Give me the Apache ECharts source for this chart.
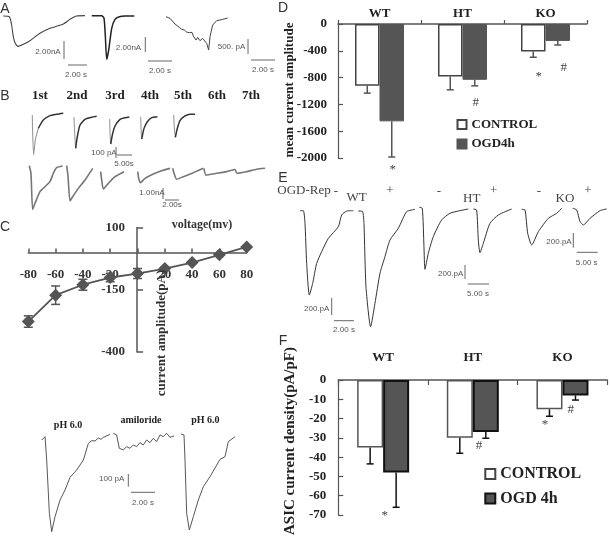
<!DOCTYPE html>
<html><head><meta charset="utf-8">
<style>html,body{margin:0;padding:0;background:#fff}#c{width:610px;height:539px;filter:blur(0.4px)}</style>
<script src="https://cdn.jsdelivr.net/npm/echarts@6/dist/echarts.min.js"></script>
</head><body><div id="c"></div>
<script>
// ---- bar panels
const groups = ['WT','HT','KO'];
const dControl = [-923,-784,-412];
const dOgd = [-1453,-833,-253];
const dControlErrEnd = [-1032,-982,-496];
const dOgdErrEnd = [-1985,-923,-313];
const fControl = [-35,-30,-15.2];
const fOgd = [-48,-27,-8];
const fControlErrEnd = [-43.5,-38,-18.8];
const fOgdErrEnd = [-66,-30.2,-10.4];
// ---- I-V panel
const ivVoltage = [-80,-60,-40,-20,0,20,40,60,80];
const ivCurrent = [-278,-172,-130,-101,-85,-65,-41,-10,22];
const ivError = [23,37,22,17,20,5,3,4,4];
// ---- current traces: [sample, deflection]; three units to one pixel
const traceA1 = [[0,0],[18,-2],[25,-27],[30,-62],[35,-80],[45,-91],[60,-85],[80,-74],[110,-52],[140,-37],[180,-24],[200,-10],[220,0],[245,1]];
const traceA2 = [[0,0],[30,0],[37,-8],[41,-63],[45,-131],[51,-103],[60,-38],[70,-11],[83,-3],[100,-1],[128,-1]];
const traceA3 = [[0,0],[12,-5],[27,-22],[40,-32],[47,-38],[55,-40],[62,-46],[70,-48],[78,-47],[82,-58],[90,-70],[95,-62],[102,-72],[110,-65],[114,-70],[122,-80],[128,-100],[132,-60],[140,-25],[152,-12],[170,-8],[185,-4]];
const traceB11 = [[0,-5],[1,-60],[4,-125],[9,-80],[18,-45],[33,-20],[53,-7],[73,-3],[93,0]];
const traceB12 = [[0,-3],[2,-51],[5,-96],[10,-61],[18,-26],[33,-9],[53,-3],[68,0]];
const traceB13 = [[0,-6],[1,-49],[3,-81],[9,-49],[16,-27],[31,-7],[46,-2],[59,0]];
const traceB14 = [[0,0],[1,-35],[3,-67],[10,-35],[20,-15],[33,-3],[50,0]];
const traceB15 = [[0,-2],[2,-42],[5,-69],[11,-42],[19,-19],[34,-5],[49,0],[64,0]];
const traceB21 = [[0,0],[5,-23],[10,-131],[17,-113],[32,-78],[47,-63],[62,-48],[72,-23],[82,-6],[100,-1]];
const traceB22 = [[0,0],[4,-33],[10,-106],[18,-93],[35,-68],[55,-43],[78,-8]];
const traceB23 = [[0,0],[3,-25],[8,-52],[23,-35],[43,-15],[70,0]];
const traceB24 = [[0,0],[3,-20],[8,-33],[22,-20],[47,-7],[72,3],[97,10]];
const traceB25 = [[0,0],[4,-15],[12,-33],[32,-25],[62,-13],[92,0]];
const traceB26 = [[0,0],[6,-20],[38,-15],[68,-10],[93,-3]];
const traceB27 = [[0,0],[7,-12],[35,-7],[65,0],[90,3]];
const traceE1 = [[0,0],[10,0],[15,-38],[20,-158],[28,-253],[38,-218],[50,-158],[65,-123],[85,-83],[115,-48],[125,-13],[140,-1],[160,0]];
const traceE2 = [[0,0],[13,-2],[17,-37],[23,-227],[37,-347],[50,-277],[65,-187],[80,-137],[95,-87],[120,-52],[145,-2],[170,5]];
const traceE3 = [[0,0],[9,-3],[14,-118],[17,-186],[27,-138],[42,-88],[67,-38],[92,-18],[122,-10],[147,-5]];
const traceE4 = [[0,0],[10,-3],[15,-93],[20,-131],[30,-103],[50,-43],[75,-18],[115,0]];
const traceE5 = [[0,0],[10,-2],[18,-72],[30,-107],[50,-67],[80,-27],[105,-12],[120,3]];
const traceE6 = [[0,0],[12,-5],[22,-40],[32,-50],[52,-30],[82,-7],[102,-2]];
const traceG1 = [[0,0],[10,10],[15,-60],[23,-220],[30,-275],[40,-230],[55,-180],[70,-150],[85,-112],[105,-90],[125,-60],[140,-10],[150,-2],[155,4],[160,-3],[170,6],[178,2],[185,8],[205,17]];
const traceG2 = [[0,0],[10,-5],[18,-45],[30,-50],[40,-40],[50,-45],[60,-35],[70,-40],[80,-28],[90,-35],[100,-20],[110,-28],[120,-15],[130,-25],[140,-5],[150,-10],[160,0],[170,-12],[182,-8]];
const traceG3 = [[0,0],[9,-3],[12,-78],[17,-238],[25,-288],[37,-248],[52,-198],[67,-158],[87,-128],[117,-76],[132,-68],[142,-23],[162,-8]];

const DARK='#333', GREY='#777', MID='#555', SERIF='"Liberation Serif"', SANS='"Liberation Sans"';
const grid=[], xAxis=[], yAxis=[], series=[];
const UNITS=3;
const NB={outerBoundsMode:'none',containLabel:false};
function addTrace(name,vals,left,base,color,width,greyUntil,smooth){
  const xs=vals.map(v=>v[0]), ys=vals.map(v=>v[1]);
  const xMax=Math.max(...xs), yMax=Math.max(0,...ys), yMin=Math.min(...ys);
  const i=grid.length;
  grid.push(Object.assign({left:left,top:base-yMax/UNITS,width:xMax/UNITS,height:(yMax-yMin)/UNITS},NB));
  xAxis.push({type:'value',gridIndex:i,show:false,min:0,max:xMax});
  yAxis.push({type:'value',gridIndex:i,show:false,min:yMin,max:yMax});
  const line=(d,c,w,n)=>series.push({name:n,type:'line',xAxisIndex:i,yAxisIndex:i,data:d,showSymbol:false,clip:false,silent:true,
    smooth:smooth===false?false:0.2,lineStyle:{color:c,width:w,join:'round'}});
  if(greyUntil){ line(vals.slice(0,greyUntil+1),'#999',1.1,name+' rise'); line(vals.slice(greyUntil),color,width,name); }
  else line(vals,color,width,name);
}
addTrace('A1',traceA1,3.3,16,'#444',1.1);
addTrace('A2',traceA2,91.7,15.7,'#222',1.5);
addTrace('A3',traceA3,166,16.7,'#444',1,0,false);
addTrace('B1-1',traceB11,32.3,113.3,'#333',1.4,4);
addTrace('B1-2',traceB12,74,116.3,'#333',1.5,2);
addTrace('B1-3',traceB13,109.7,117,'#333',1.5,2);
addTrace('B1-4',traceB14,140.7,116.7,'#333',1.5,2);
addTrace('B1-5',traceB15,173.7,114.3,'#333',1.5,2);
addTrace('B2-1',traceB21,29.3,165.7,GREY,1.6);
addTrace('B2-2',traceB22,66.7,165.7,GREY,1.6);
addTrace('B2-3',traceB23,100.7,171.7,GREY,1.6);
addTrace('B2-4',traceB24,137.7,171.7,GREY,1.6);
addTrace('B2-5',traceB25,172.7,168.3,GREY,1.6);
addTrace('B2-6',traceB26,204,168.3,GREY,1.6);
addTrace('B2-7',traceB27,235,169.3,GREY,1.6);
addTrace('E1',traceE1,300,210.7,'#333',1);
addTrace('E2',traceE2,358.3,211,'#333',1);
addTrace('E3',traceE3,419.3,207.3,'#333',1);
addTrace('E4',traceE4,473.3,209,'#333',1);
addTrace('E5',traceE5,521.7,209.3,'#333',1);
addTrace('E6',traceE6,572.7,208.3,'#333',1);
addTrace('G1',traceG1,41.7,440,'#444',.9,0,false);
addTrace('G2',traceG2,113.3,433.3,'#444',.9,0,false);
addTrace('G3',traceG3,181,434,'#444',.9,0,false);

// I-V plot
const ivI=grid.length;
grid.push(Object.assign({left:28.3,top:227.5,width:218.4,height:124.4},NB));
const ivLabel={fontFamily:SERIF,fontWeight:'bold',fontSize:13,color:'#333'};
xAxis.push({type:'value',gridIndex:ivI,min:-80,max:80,interval:20,offset:-99.5,position:'bottom',splitLine:{show:false},
  axisLine:{show:true,onZero:false,lineStyle:{color:MID,width:1.5}},
  axisTick:{show:true,inside:true,length:4,lineStyle:{color:MID,width:1.5}},
  axisLabel:Object.assign({margin:16,showMinLabel:true,showMaxLabel:true},ivLabel)});
yAxis.push({type:'value',gridIndex:ivI,min:-400,max:100,interval:250,offset:-108.8,position:'left',splitLine:{show:false},
  axisLine:{show:true,onZero:false,lineStyle:{color:MID,width:1.5}},
  axisTick:{show:true,inside:true,length:6,lineStyle:{color:MID,width:1.5}},
  axisLabel:Object.assign({margin:12},ivLabel)});
series.push({name:'current amplitude',type:'line',xAxisIndex:ivI,yAxisIndex:ivI,data:ivVoltage.map((v,i)=>[v,ivCurrent[i]]),
  symbol:'diamond',symbolSize:13,itemStyle:{color:MID},lineStyle:{color:MID,width:1.8},z:4,clip:false});
series.push({type:'custom',name:'iv error',xAxisIndex:ivI,yAxisIndex:ivI,z:5,clip:false,silent:true,
  data:ivVoltage.map((v,i)=>[v,ivCurrent[i]-ivError[i],ivCurrent[i]+ivError[i]]),
  encode:{x:0,y:[1,2]},
  renderItem:(p,api)=>{const a=api.coord([api.value(0),api.value(1)]),b=api.coord([api.value(0),api.value(2)]);
    const s={stroke:MID,lineWidth:1.5},hw=4.5;
    return {type:'group',children:[
      {type:'line',shape:{x1:a[0],y1:a[1],x2:b[0],y2:b[1]},style:s},
      {type:'line',shape:{x1:a[0]-hw,y1:a[1],x2:a[0]+hw,y2:a[1]},style:s},
      {type:'line',shape:{x1:b[0]-hw,y1:b[1],x2:b[0]+hw,y2:b[1]},style:s}]};}});

// bar panels
function addBars(box,yOpt,ctrl,ogd,ctrlErr,ogdErr,ogdName,opt){
  const i=grid.length;
  grid.push(Object.assign(box,NB));
  const lab={fontFamily:SERIF,fontWeight:'bold',fontSize:opt.fs,color:'#222'};
  xAxis.push({type:'category',gridIndex:i,data:groups,position:'top',
    axisLine:{onZero:false,lineStyle:{color:MID,width:1.5}},
    axisTick:{show:true,inside:opt.tickIn,length:opt.tickLen,alignWithLabel:false,lineStyle:{color:MID,width:1.2}},
    axisLabel:Object.assign({margin:opt.xMargin},lab)});
  yAxis.push(Object.assign({type:'value',gridIndex:i,splitLine:{show:false},
    axisLine:{show:true,onZero:false,lineStyle:{color:MID,width:1.2}},
    axisTick:{show:true,inside:true,length:5,lineStyle:{color:MID,width:1.2}},
    axisLabel:Object.assign({margin:opt.yMargin,showMinLabel:true,formatter:v=>String(v)},lab)},yOpt));
  series.push({name:'CONTROL',type:'bar',xAxisIndex:i,yAxisIndex:i,data:ctrl,barWidth:opt.bw,barGap:0,
    itemStyle:{color:'#fff',borderColor:opt.ctrlBorder,borderWidth:1.5}});
  series.push({name:ogdName,type:'bar',xAxisIndex:i,yAxisIndex:i,data:ogd,barWidth:opt.bw,barGap:0,
    itemStyle:{color:MID,borderColor:opt.ogdBorder,borderWidth:opt.ogdBw}});
  const errs=(means,ends,off)=>series.push({type:'custom',name:'err',xAxisIndex:i,yAxisIndex:i,z:5,clip:false,silent:true,
    data:means.map((m,k)=>[k,m,ends[k]]),encode:{x:0,y:[1,2]},
    renderItem:(p,api)=>{const a=api.coord([api.value(0),api.value(1)]),b=api.coord([api.value(0),api.value(2)]);
      const x=a[0]+off,s={stroke:opt.errColor,lineWidth:1.5},hw=3.5;
      return {type:'group',children:[
        {type:'line',shape:{x1:x,y1:a[1],x2:x,y2:b[1]},style:s},
        {type:'line',shape:{x1:x-hw,y1:b[1],x2:x+hw,y2:b[1]},style:s}]};}});
  errs(ctrl,ctrlErr,-opt.bw/2); errs(ogd,ogdErr,opt.bw/2);
}
addBars({left:338,top:24,width:249,height:134},{min:-2000,max:0,interval:400},dControl,dOgd,dControlErrEnd,dOgdErrEnd,'OGD4h',
  {fs:13,bw:24.5,tickIn:false,tickLen:4,xMargin:4,yMargin:11,ctrlBorder:'#444',ogdBorder:MID,ogdBw:1,errColor:MID});
addBars({left:338.3,top:380,width:269,height:135},{min:-70,max:0,interval:10},fControl,fOgd,fControlErrEnd,fOgdErrEnd,'OGD 4h',
  {fs:13,bw:26,tickIn:true,tickLen:5,xMargin:16,yMargin:12,ctrlBorder:MID,ogdBorder:'#111',ogdBw:2,errColor:'#111'});

// text and scale bars
const T=(text,x,y,font,extra)=>Object.assign({type:'text',x:x,y:y,silent:true,z:50,
  style:Object.assign({text:text,align:'center',verticalAlign:'middle',fill:'#333',font:font},extra&&extra.style||{})},extra&&extra.el||{});
const SB=(x1,y1,x2,y2,c)=>({type:'line',silent:true,z:50,shape:{x1,y1,x2,y2},style:{stroke:c||'#666',lineWidth:1}});
const F_PANEL='14px '+SANS, F_SCALE='8px '+SANS, F_ORD='bold 13px '+SERIF, F_MARK='13px '+SERIF, F_SMALL='bold 10px '+SERIF;
const scaleText=[['2.00nA',48,52],['2.00 s',76,75],['2.00nA',128.5,48],['2.00 s',160,71],['500. pA',231.5,47],['2.00 s',263,69.5],
  ['100 pA',104,153],['5.00s',124,164],['1.00nA',152,193],['2.00s',172,205],
  ['200.pA',316.7,309],['2.00 s',344,330],['200.pA',450.7,274],['5.00 s',478,293.3],['200.pA',559,242],['5.00 s',586.7,262.3],
  ['100 pA',111.7,479],['2.00 s',143,502.7]];
const panelText=[['A',5,9],['B',5,96],['C',5,227],['D',283,8],['E',283,178],['F',283,341]];
const ordinals=[['1st',40],['2nd',77],['3rd',115],['4th',150],['5th',183],['6th',217],['7th',251]];
const markText=[['OGD-Rep',304,191],['-',336,192],['WT',356.7,198],['+',390,191],['-',439,192],['HT',471.7,199],['+',493.7,191],['-',539,192],['KO',565,199],['+',588,191],
  ['*',392.7,170],['#',475.7,103],['*',538.7,77],['#',563.7,68],['*',384.7,516],['#',479,446],['*',545,424.7],['#',570.7,409.3]];
const smallBold=[['pH 6.0',68,425],['amiloride',141,420],['pH 6.0',205.3,420]];
const bars=[[64,41,64,59],[68,65,87,65],[145.3,37,145.3,52],[148,61,172,61],[248,39,248,54],[251,60,275,60],
  [116,147,116,158],[117,155,132,155],[163,188,163,199],[165,200,179,200],
  [331.7,298,331.7,315],[334,320.7,354,320.7],[465,265,465,279],[467.7,284,489,284],[573.3,233,573.3,247.7],[576.7,252.3,597.7,252.3],
  [128.3,474,128.3,486.7],[131,492.3,155,492.3]];
const graphic=[
  ...scaleText.map(a=>T(a[0],a[1],a[2],F_SCALE,{style:{fill:'#555'}})),
  ...panelText.map(a=>T(a[0],a[1],a[2],F_PANEL)),
  ...ordinals.map(a=>T(a[0],a[1],96,F_ORD,{style:{fill:'#222'}})),
  ...markText.map(a=>T(a[0],a[1],a[2],F_MARK,{style:{fill:'#444'}})),
  ...smallBold.map(a=>T(a[0],a[1],a[2],F_SMALL,{style:{fill:'#222'}})),
  ...bars.map(b=>SB(b[0],b[1],b[2],b[3])),
  T('voltage(mv)',202,225,'bold 12px '+SERIF,{style:{fill:'#333'}}),
  T('current amplitude(pA)',162,333,'bold 13px '+SERIF,{el:{rotation:Math.PI/2},style:{fill:'#333'}}),
  T('mean current amplitude',290,90,'bold 13px '+SERIF,{el:{rotation:Math.PI/2},style:{fill:'#222'}}),
  T('ASIC current density(pA/pF)',290,441,'bold 15px '+SERIF,{el:{rotation:Math.PI/2},style:{fill:'#222'}})
];
const chart=echarts.init(document.getElementById('c'),null,{renderer:'canvas'});
chart.setOption({
  animation:false,backgroundColor:'#fff',tooltip:{show:false},
  grid,xAxis,yAxis,series,graphic,
  legend:[
    {left:456.5,top:118,padding:0,orient:'vertical',itemWidth:9,itemHeight:9,itemGap:6.5,selectedMode:false,icon:'rect',
      data:['CONTROL','OGD4h'],textStyle:{fontFamily:SERIF,fontWeight:'bold',fontSize:13,color:'#222'}},
    {left:484.3,top:466,padding:0,orient:'vertical',itemWidth:10,itemHeight:10,itemGap:8.5,selectedMode:false,icon:'rect',
      data:['CONTROL','OGD 4h'],textStyle:{fontFamily:SERIF,fontWeight:'bold',fontSize:16,color:'#222'}}
  ]
});
</script></body></html>
